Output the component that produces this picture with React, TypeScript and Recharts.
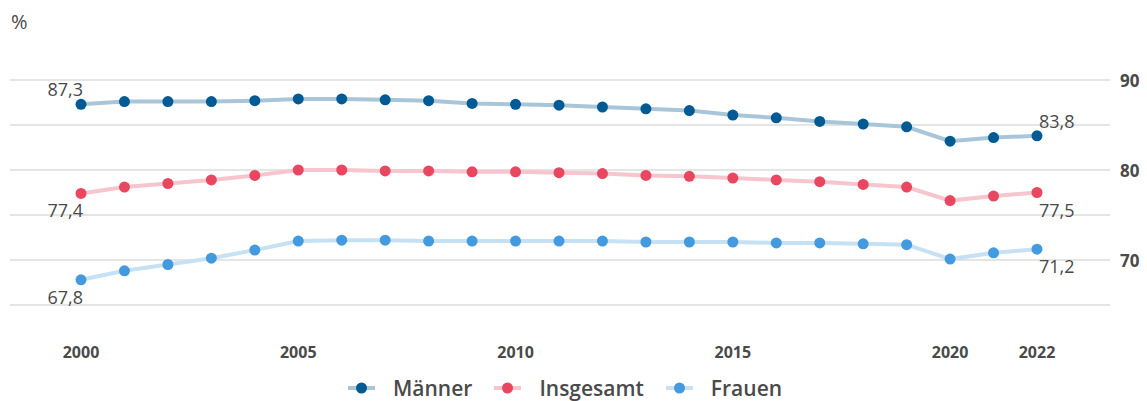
import React from "react";
import { LineChart, Line, XAxis, YAxis, CartesianGrid, LabelList } from "recharts";

const years = [2000, 2001, 2002, 2003, 2004, 2005, 2006, 2007, 2008, 2009, 2010, 2011, 2012, 2013, 2014, 2015, 2016, 2017, 2018, 2019, 2020, 2021, 2022];
const maenner = [87.3, 87.6, 87.6, 87.6, 87.7, 87.9, 87.9, 87.8, 87.7, 87.4, 87.3, 87.2, 87.0, 86.8, 86.6, 86.1, 85.8, 85.4, 85.1, 84.8, 83.2, 83.6, 83.8];
const insgesamt = [77.4, 78.1, 78.5, 78.9, 79.4, 80.0, 80.0, 79.9, 79.9, 79.8, 79.8, 79.7, 79.6, 79.4, 79.3, 79.1, 78.9, 78.7, 78.4, 78.1, 76.6, 77.1, 77.5];
const frauen = [67.8, 68.8, 69.5, 70.2, 71.1, 72.1, 72.2, 72.2, 72.1, 72.1, 72.1, 72.1, 72.1, 72.0, 72.0, 72.0, 71.9, 71.9, 71.8, 71.7, 70.1, 70.8, 71.2];
const xTicks = [2000, 2005, 2010, 2015, 2020, 2022];
const yTicks = [65, 70, 75, 80, 85, 90];
const yLabelTicks = [70, 80, 90];

const data = years.map((y, i) => ({ year: y, m: maenner[i], g: insgesamt[i], f: frauen[i] }));

const FONT = "'Open Sans', 'Noto Sans', sans-serif";
const TEXT = "#4a4a4a";

const series = [
  { key: "m", name: "Männer", dot: "#005a94", line: "#a9c6d9", above: true },
  { key: "g", name: "Insgesamt", dot: "#e8475f", line: "#f7c5cd", above: false },
  { key: "f", name: "Frauen", dot: "#449ade", line: "#c6e0f4", above: false },
];

const fmt = (v: number) => v.toFixed(1).replace(".", ",");

const makeLabel = (above: boolean) => (props: any) => {
  const { x, y, value, index } = props;
  const last = data.length - 1;
  if (index !== 0 && index !== last) return null;
  const anchor = index === 0 ? "end" : "start";
  const ty = above ? y - 15 : y + 17;
  return (
    <text x={x + 2} y={ty} textAnchor={anchor} dominantBaseline="central" fontSize={18} fontWeight={500} fill={TEXT} fontFamily={FONT}>
      {fmt(value)}
    </text>
  );
};

const XTick = (props: any) => {
  const { x, y, payload } = props;
  return (
    <text x={x} y={y + 47} textAnchor="middle" dominantBaseline="central" fontSize={16} fontWeight={700} fill={TEXT} fontFamily={FONT}>
      {payload.value}
    </text>
  );
};

const YTick = (props: any) => {
  const { x, y, payload } = props;
  if (!yLabelTicks.includes(payload.value)) return null;
  return (
    <text x={x} y={y} textAnchor="start" dominantBaseline="central" fontSize={17} fontWeight={700} fill={TEXT} fontFamily={FONT}>
      {payload.value}
    </text>
  );
};

export default function App() {
  return (
    <div style={{ position: "absolute", left: 0, top: 0, width: 1147, height: 401, background: "#fff", fontFamily: FONT, overflow: "hidden" }}>
      <div style={{ position: "absolute", left: 11, top: 8, fontSize: 20, fontWeight: 500, color: TEXT, lineHeight: "28px" }}>%</div>
      <LineChart width={1147} height={401} data={data} margin={{ top: 80, right: 0, left: 10, bottom: 0 }}>
        <CartesianGrid vertical={false} stroke="#cccccc" strokeWidth={1.2} />
        <XAxis
          dataKey="year"
          type="number"
          domain={[2000, 2022]}
          ticks={xTicks}
          padding={{ left: 71, right: 73 }}
          axisLine={false}
          tickLine={false}
          tickSize={0}
          tickMargin={0}
          height={96}
          tick={<XTick />}
          interval={0}
        />
        <YAxis
          orientation="right"
          domain={[65, 90]}
          ticks={yTicks}
          axisLine={false}
          tickLine={false}
          tickSize={0}
          tickMargin={10}
          width={37}
          tick={<YTick />}
          interval={0}
        />
        {series.map((s) => (
          <Line
            key={s.key}
            dataKey={s.key}
            name={s.name}
            stroke={s.line}
            strokeWidth={4}
            dot={{ r: 5.5, fill: s.dot, stroke: s.dot, strokeWidth: 0 }}
            activeDot={false}
            isAnimationActive={false}
          >
            <LabelList dataKey={s.key} content={makeLabel(s.above)} />
          </Line>
        ))}
      </LineChart>
      <div style={{ position: "absolute", left: 348, top: 374, display: "flex", alignItems: "center", height: 28 }}>
        {series.map((s, i) => (
          <div key={s.key} style={{ display: "flex", alignItems: "center", marginRight: i < series.length - 1 ? 22 : 0 }}>
            <svg width={27} height={14} style={{ display: "block" }}>
              <line x1={0} y1={7} x2={27} y2={7} stroke={s.line} strokeWidth={4} />
              <circle cx={13.5} cy={7} r={5.5} fill={s.dot} />
            </svg>
            <span style={{ marginLeft: 18, fontSize: 21, fontWeight: 600, color: TEXT, lineHeight: "28px" }}>{s.name}</span>
          </div>
        ))}
      </div>
    </div>
  );
}
